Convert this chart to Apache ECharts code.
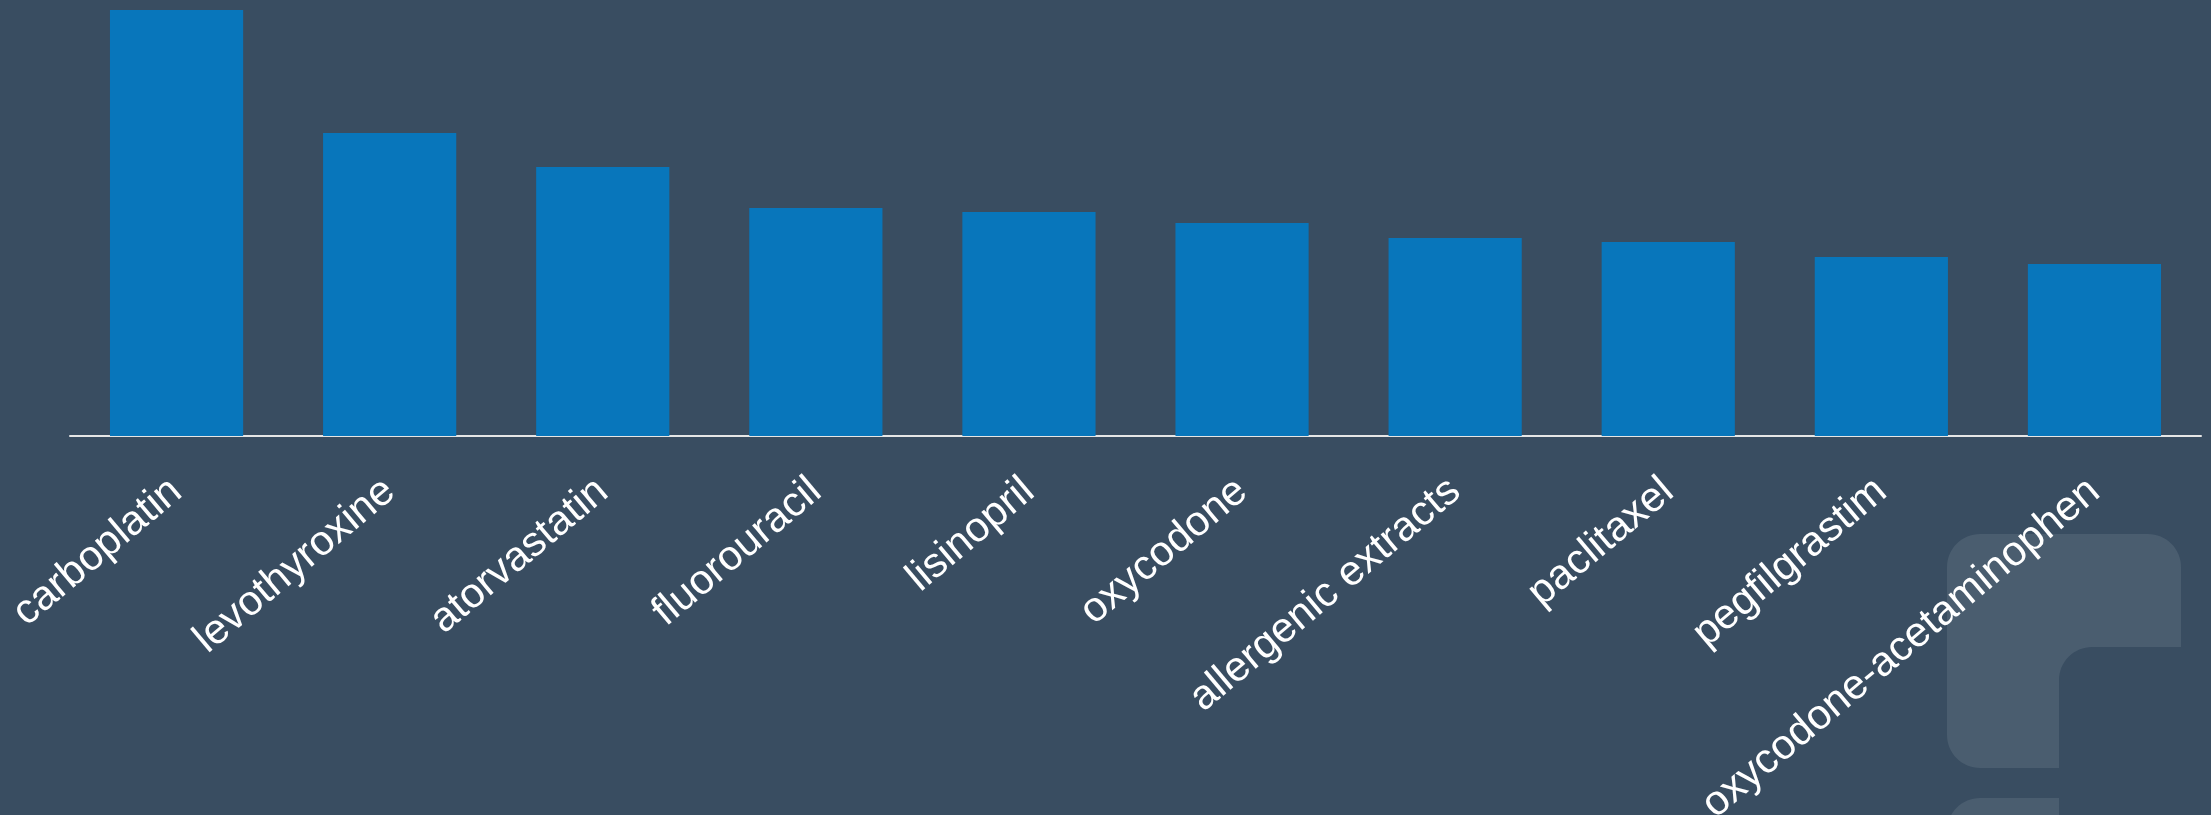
<!DOCTYPE html>
<html>
<head>
<meta charset="utf-8">
<script src="https://cdn.jsdelivr.net/npm/echarts@6/dist/echarts.min.js"></script>
<style>
html,body{margin:0;padding:0;background:#394d61;}
#chart{width:2211px;height:815px;}
</style>
</head>
<body>
<div id="chart"></div>
<script>
var categories = ['carboplatin','levothyroxine','atorvastatin','fluorouracil','lisinopril','oxycodone','allergenic extracts','paclitaxel','pegfilgrastim','oxycodone-acetaminophen'];
var values = [426, 303, 269, 228, 224, 213, 198, 194, 179, 172];
var yMax = 426;

// decorative watermark outline helper
function arc(cx, cy, r, a0, a1) {
  var pts = [], n = 16;
  for (var i = 0; i <= n; i++) {
    var a = (a0 + (a1 - a0) * i / n) * Math.PI / 180;
    pts.push([cx + r * Math.cos(a), cy + r * Math.sin(a)]);
  }
  return pts;
}
var R = 33;
var logoA = [].concat(
  arc(1980, 567, R, 180, 270),
  arc(2148, 567, R, 270, 360),
  [[2181, 647]],
  arc(2092, 680, R, 270, 180),
  [[2059, 768]],
  arc(1980, 735, R, 90, 180)
);
var logoB = [].concat(
  [[1947, 840]],
  arc(1980, 831, R, 180, 270),
  [[2059, 798], [2059, 840]]
);

var chart = echarts.init(document.getElementById('chart'), null, {renderer:'canvas'});
chart.setOption({
  backgroundColor: '#394d61',
  animation: false,
  grid: {left: 70, right: 10, top: 10, bottom: 379, containLabel: false, outerBoundsMode: 'none'},
  xAxis: {
    type: 'category',
    data: categories,
    axisLine: {show: true, lineStyle: {color: '#e6e6e6', width: 2}},
    axisTick: {show: false},
    axisLabel: {
      interval: 0,
      rotate: 40,
      align: 'right',
      verticalAlign: 'middle',
      margin: 50,
      color: '#ffffff',
      fontSize: 42,
      fontFamily: 'Liberation Sans, Arial, sans-serif'
    },
    splitLine: {show: false}
  },
  yAxis: {
    type: 'value',
    min: 0,
    max: yMax,
    show: false,
    splitLine: {show: false}
  },
  graphic: [
    {type: 'polygon', z: -10, silent: true, shape: {points: logoA}, style: {fill: '#4a5d6f'}},
    {type: 'polygon', z: -10, silent: true, shape: {points: logoB}, style: {fill: '#4a5d6f'}}
  ],
  series: [{
    type: 'bar',
    data: values,
    barCategoryGap: '37.5%',
    itemStyle: {color: '#0876bb'}
  }]
});
</script>
</body>
</html>
